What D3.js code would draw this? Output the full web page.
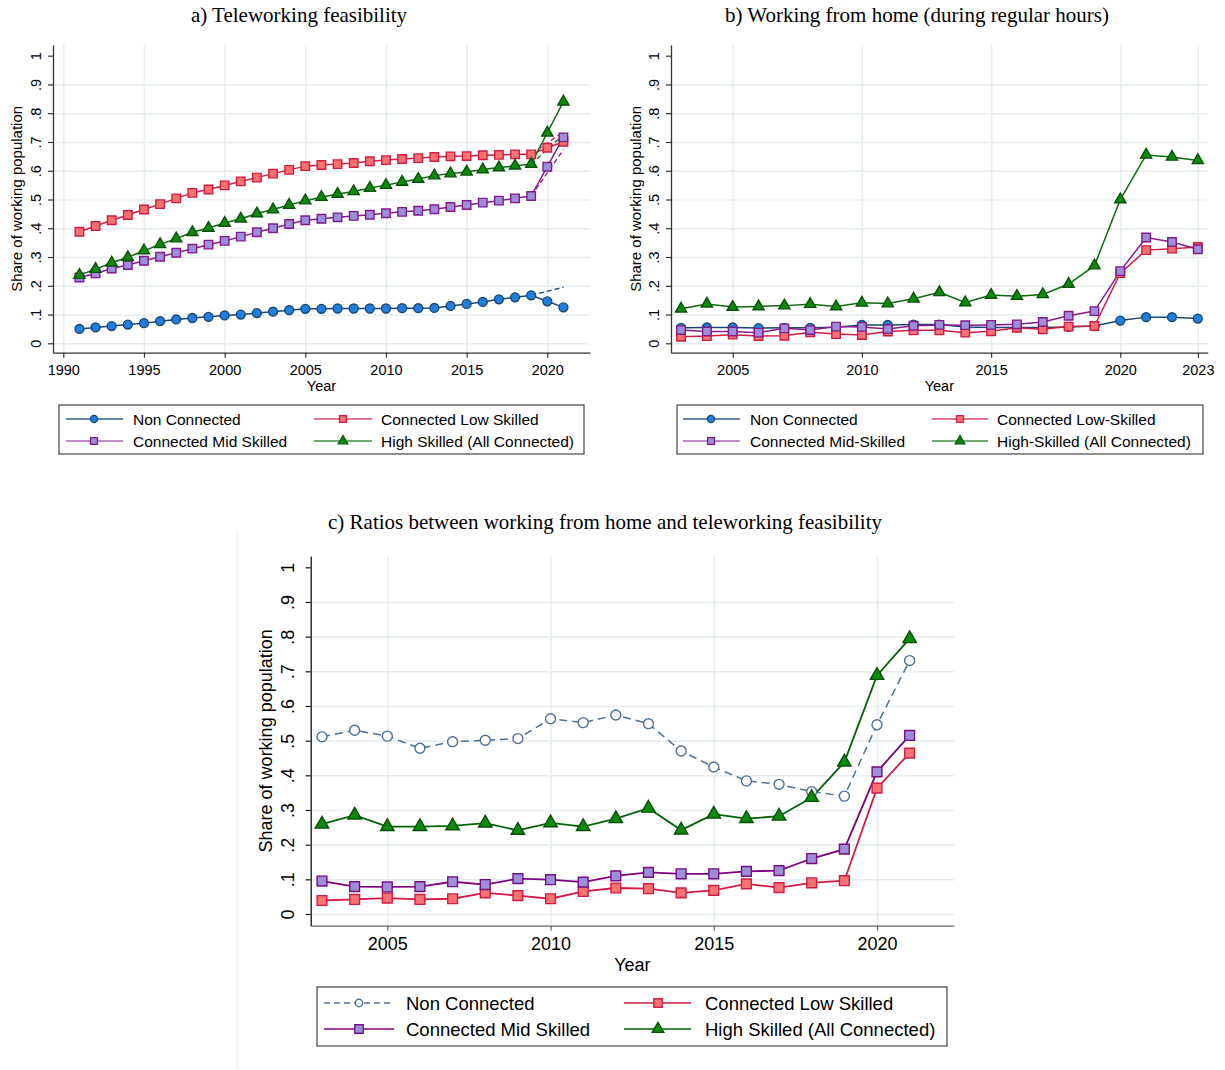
<!DOCTYPE html>
<html><head><meta charset="utf-8">
<script src="https://cdn.jsdelivr.net/npm/d3@7"></script>
<style>body{margin:0;background:#fff}svg{display:block}</style>
</head><body>
<svg id="chart" width="1225" height="1070"></svg>
<script>
// ---------- DATA ----------
const seriesNames = ["Non Connected","Connected Low Skilled","Connected Mid Skilled","High Skilled (All Connected)"];
const seriesNamesB = ["Non Connected","Connected Low-Skilled","Connected Mid-Skilled","High-Skilled (All Connected)"];
const yTickValues = [0,0.1,0.2,0.3,0.4,0.5,0.6,0.7,0.8,0.9,1];
const yTickLabels = ["0",".1",".2",".3",".4",".5",".6",".7",".8",".9","1"];
const yGridValues = [0,0.1,0.2,0.3,0.4,0.5,0.6,0.7,0.8,0.9];

// Panel a
const yearsA = [1991,1992,1993,1994,1995,1996,1997,1998,1999,2000,2001,2002,2003,2004,2005,2006,2007,2008,2009,2010,2011,2012,2013,2014,2015,2016,2017,2018,2019,2020,2021];
const aNon  = [0.050,0.055,0.060,0.065,0.070,0.077,0.083,0.088,0.092,0.097,0.100,0.105,0.110,0.115,0.120,0.120,0.121,0.121,0.121,0.121,0.122,0.122,0.123,0.130,0.137,0.144,0.153,0.160,0.167,0.146,0.125];
const aLow  = [0.388,0.408,0.428,0.446,0.465,0.484,0.504,0.523,0.535,0.549,0.563,0.576,0.590,0.603,0.616,0.620,0.623,0.627,0.633,0.637,0.641,0.644,0.648,0.650,0.651,0.654,0.655,0.657,0.657,0.680,0.701];
const aMid  = [0.229,0.243,0.260,0.272,0.287,0.301,0.315,0.329,0.343,0.356,0.371,0.386,0.400,0.415,0.428,0.433,0.438,0.443,0.447,0.452,0.457,0.461,0.466,0.474,0.481,0.489,0.496,0.504,0.512,0.614,0.716];
const aHigh = [0.237,0.258,0.280,0.299,0.322,0.344,0.364,0.386,0.401,0.418,0.433,0.451,0.465,0.481,0.496,0.508,0.519,0.528,0.540,0.550,0.561,0.571,0.583,0.590,0.596,0.604,0.611,0.617,0.623,0.732,0.840];
const trendYears = [2019,2021];
const aNonTrend  = [0.167,0.195];
const aLowTrend  = [0.657,0.735];
const aMidTrend  = [0.512,0.673];
const aHighTrend = [0.623,0.725];
const xTicksA = [1990,1995,2000,2005,2010,2015,2020];

// Panel b
const yearsB = [2003,2004,2005,2006,2007,2008,2009,2010,2011,2012,2013,2014,2015,2016,2017,2018,2019,2020,2021,2022,2023];
const bNon  = [0.054,0.055,0.055,0.053,0.054,0.054,0.056,0.064,0.064,0.065,0.065,0.057,0.055,0.055,0.055,0.057,0.060,0.079,0.091,0.091,0.086];
const bLow  = [0.023,0.025,0.030,0.025,0.026,0.038,0.032,0.029,0.041,0.045,0.045,0.037,0.042,0.054,0.049,0.058,0.060,0.244,0.324,0.329,0.335];
const bMid  = [0.046,0.041,0.041,0.037,0.052,0.046,0.058,0.057,0.050,0.061,0.064,0.063,0.064,0.066,0.074,0.096,0.112,0.251,0.368,0.352,0.327];
const bHigh = [0.120,0.137,0.126,0.128,0.131,0.136,0.128,0.141,0.138,0.155,0.177,0.142,0.168,0.164,0.170,0.206,0.270,0.500,0.655,0.648,0.636];
const xTicksB = [2005,2010,2015,2020,2023];

// Panel c
const yearsC = [2003,2004,2005,2006,2007,2008,2009,2010,2011,2012,2013,2014,2015,2016,2017,2018,2019,2020,2021];
const cNon  = [0.511,0.530,0.513,0.478,0.497,0.501,0.506,0.563,0.552,0.574,0.549,0.470,0.424,0.384,0.374,0.353,0.340,0.546,0.731];
const cLow  = [0.039,0.042,0.046,0.042,0.044,0.061,0.053,0.044,0.065,0.075,0.073,0.061,0.068,0.087,0.076,0.090,0.096,0.363,0.464];
const cMid  = [0.095,0.079,0.078,0.079,0.093,0.085,0.102,0.099,0.092,0.110,0.120,0.116,0.116,0.123,0.125,0.160,0.187,0.410,0.515];
const cHigh = [0.259,0.285,0.252,0.252,0.254,0.262,0.241,0.263,0.252,0.275,0.305,0.242,0.288,0.275,0.282,0.336,0.438,0.688,0.794];
const xTicksC = [2005,2010,2015,2020];

// ---------- STYLE ----------
const SANS = "'Liberation Sans', Arial, Helvetica, sans-serif";
const SERIF = "'Liberation Serif', 'Times New Roman', serif";
const GRID = "#e7eef1";
const st = {
  non:  {line:"#1a476f", fill:"#1f7fe0", stroke:"#1a476f", sym:d3.symbolCircle, leg:"#2f5f8f"},
  low:  {line:"#d51a44", fill:"#f87272", stroke:"#d51a44", sym:d3.symbolSquare, leg:"#d84a6c"},
  mid:  {line:"#8a1a92", fill:"#9b8fd8", stroke:"#84188f", sym:d3.symbolSquare, leg:"#b060bc"},
  high: {line:"#0b6b0b", fill:"#0b8a0b", stroke:"#075207", sym:d3.symbolTriangle, leg:"#3f913f"}
};

const svg = d3.select("#chart");

function makePanel(cfg){
  const g = svg.append("g");
  const x = d3.scaleLinear().domain(cfg.xRef).range(cfg.xRefPx);
  x.domain([x.invert(cfg.left), x.invert(cfg.right)]).range([cfg.left, cfg.right]);
  const y = d3.scaleLinear().domain([0,1]).range(cfg.yRefPx);
  y.domain([y.invert(cfg.bottom), y.invert(cfg.top)]).range([cfg.bottom, cfg.top]);

  g.append("g").attr("transform",`translate(${cfg.left},0)`)
    .call(d3.axisLeft(y).tickValues(yGridValues).tickSize(-(cfg.right-cfg.left)).tickFormat(""))
    .call(s=>{s.select(".domain").remove(); s.selectAll("line").attr("stroke",GRID).attr("stroke-width",1.6);});
  g.append("g").attr("transform",`translate(0,${cfg.bottom})`)
    .call(d3.axisBottom(x).tickValues(cfg.xTicks).tickSize(-(cfg.bottom-cfg.top)).tickFormat(""))
    .call(s=>{s.select(".domain").remove(); s.selectAll("line").attr("stroke",GRID).attr("stroke-width",1.6);});

  const ya = g.append("g").attr("transform",`translate(${cfg.left},0)`)
    .call(d3.axisLeft(y).tickValues(yTickValues).tickSize(5).tickSizeOuter(0).tickFormat((d,i)=>yTickLabels[i]));
  ya.select(".domain").attr("stroke",cfg.yAxisColor).attr("stroke-width",1.3);
  ya.selectAll(".tick line").attr("stroke",cfg.yAxisColor).attr("stroke-width",1.2);
  ya.selectAll(".tick text").attr("x",null).attr("dy",null)
    .attr("transform",`translate(${-cfg.yLabOff},0) rotate(-90)`)
    .attr("text-anchor","middle").attr("fill","#000")
    .style("font-family",SANS).style("font-size",cfg.tickFont+"px");

  const xa = g.append("g").attr("transform",`translate(0,${cfg.bottom})`)
    .call(d3.axisBottom(x).tickValues(cfg.xTicks).tickSize(5).tickSizeOuter(0).tickFormat(d3.format("d")));
  xa.select(".domain").attr("stroke",cfg.xAxisColor).attr("stroke-width",1.3);
  xa.selectAll(".tick line").attr("stroke",cfg.xAxisColor).attr("stroke-width",1.2);
  xa.selectAll(".tick text").attr("y",null).attr("dy",null)
    .attr("transform",`translate(0,${cfg.xLabOff})`)
    .attr("fill","#000").style("font-family",SANS).style("font-size",cfg.tickFont+"px");

  g.append("text").attr("x",(cfg.left+cfg.right)/2).attr("y",cfg.yearY).attr("text-anchor","middle")
    .style("font-family",SANS).style("font-size",cfg.titleFont+"px").text("Year");
  g.append("text").attr("transform",`translate(${cfg.yTitleX},${(cfg.top+cfg.bottom)/2}) rotate(-90)`)
    .attr("text-anchor","middle").style("font-family",SANS).style("font-size",cfg.yTitleFont+"px")
    .text("Share of working population");

  g.append("text").attr("x",cfg.titleX).attr("y",cfg.titleY).attr("text-anchor","middle")
    .style("font-family",SERIF).style("font-size",cfg.headFont+"px").text(cfg.title);

  const line = d3.line().x(d=>x(d[0])).y(d=>y(d[1]));
  const plot = g.append("g");
  (cfg.trends||[]).forEach(t=>{
    plot.append("path").datum(t.years.map((yr,i)=>[yr,t.vals[i]])).attr("d",line)
      .attr("fill","none").attr("stroke",t.color).attr("stroke-width",1.3).attr("stroke-dasharray","5,3");
  });
  cfg.series.forEach(s=>{
    const pts = s.years.map((yr,i)=>[yr,s.vals[i]]);
    plot.append("path").datum(pts).attr("d",line).attr("fill","none")
      .attr("stroke",s.line).attr("stroke-width",s.lw||1.5).attr("stroke-dasharray",s.dash||null);
  });
  cfg.series.forEach(s=>{
    const pts = s.years.map((yr,i)=>[yr,s.vals[i]]);
    const sym = d3.symbol().type(s.sym).size(s.size);
    plot.selectAll(null).data(pts).enter().append("path")
      .attr("d",sym).attr("transform",d=>`translate(${x(d[0])},${y(d[1])})`)
      .attr("fill",s.fill).attr("stroke",s.stroke).attr("stroke-width",s.sw||1.4);
  });

  const L = cfg.legend;
  const lg = g.append("g");
  lg.append("rect").attr("x",L.x).attr("y",L.y).attr("width",L.w).attr("height",L.h)
    .attr("fill","#fff").attr("stroke","#333").attr("stroke-width",1.1);
  L.items.forEach((it,i)=>{
    const c = L.cols[i%2], ry = L.rows[Math.floor(i/2)];
    lg.append("line").attr("x1",c.x1).attr("x2",c.x2).attr("y1",ry).attr("y2",ry)
      .attr("stroke",it.color).attr("stroke-width",1.5).attr("stroke-dasharray",it.dash||null);
    lg.append("path").attr("d",d3.symbol().type(it.sym).size(it.size)())
      .attr("transform",`translate(${c.m},${ry})`)
      .attr("fill",it.fill).attr("stroke",it.stroke).attr("stroke-width",1.3);
    lg.append("text").attr("x",c.t).attr("y",ry).attr("dy","0.36em")
      .style("font-family",SANS).style("font-size",L.font+"px").text(it.label);
  });
}

function abSeries(years, non, low, mid, high){
  return [
    {years, vals:non,  line:st.non.line,  fill:st.non.fill,  stroke:st.non.stroke,  sym:st.non.sym,  size:62},
    {years, vals:low,  line:st.low.line,  fill:st.low.fill,  stroke:st.low.stroke,  sym:st.low.sym,  size:72},
    {years, vals:mid,  line:st.mid.line,  fill:st.mid.fill,  stroke:st.mid.stroke,  sym:st.mid.sym,  size:72},
    {years, vals:high, line:st.high.line, fill:st.high.fill, stroke:st.high.stroke, sym:st.high.sym, size:54}
  ];
}
function abLegend(names){
  return [
    {label:names[0], color:st.non.leg,  fill:st.non.fill,  stroke:st.non.stroke,  sym:st.non.sym,  size:40},
    {label:names[1], color:st.low.leg,  fill:st.low.fill,  stroke:st.low.stroke,  sym:st.low.sym,  size:48},
    {label:names[2], color:st.mid.leg,  fill:st.mid.fill,  stroke:st.mid.stroke,  sym:st.mid.sym,  size:48},
    {label:names[3], color:st.high.leg, fill:st.high.fill, stroke:st.high.stroke, sym:st.high.sym, size:40}
  ];
}

makePanel({
  left:53, right:590, top:45, bottom:352.7,
  xRef:[1990,2020], xRefPx:[63.3,547.3], yRefPx:[343.3,55.7],
  xTicks:xTicksA, tickFont:14.5, titleFont:14.5, yTitleFont:15, headFont:21,
  yLabOff:12.5, xLabOff:22.5, yearY:391, yTitleX:22,
  yAxisColor:"#333", xAxisColor:"#333",
  title:"a) Teleworking feasibility", titleX:299, titleY:22,
  series:abSeries(yearsA,aNon,aLow,aMid,aHigh),
  trends:[
    {years:trendYears, vals:aNonTrend,  color:st.non.line},
    {years:trendYears, vals:aLowTrend,  color:st.low.line},
    {years:trendYears, vals:aMidTrend,  color:st.mid.line},
    {years:trendYears, vals:aHighTrend, color:st.high.line}
  ],
  legend:{x:59,y:405,w:525,h:49,font:15.5,rows:[419,441],
    cols:[{x1:66,x2:123,m:94,t:133},{x1:314,x2:372,m:343,t:381}],
    items:abLegend(seriesNames)}
});

makePanel({
  left:671, right:1207.7, top:45, bottom:352.7,
  xRef:[2005,2020], xRefPx:[732.7,1120.3], yRefPx:[343.3,55.7],
  xTicks:xTicksB, tickFont:14.5, titleFont:14.5, yTitleFont:15, headFont:21,
  yLabOff:12.5, xLabOff:22.5, yearY:391, yTitleX:641,
  yAxisColor:"#333", xAxisColor:"#333",
  title:"b) Working from home (during regular hours)", titleX:917, titleY:22,
  series:abSeries(yearsB,bNon,bLow,bMid,bHigh),
  legend:{x:677,y:405,w:526,h:49,font:15.5,rows:[419,441],
    cols:[{x1:683,x2:740,m:711,t:750},{x1:932,x2:988,m:960,t:997}],
    items:abLegend(seriesNamesB)}
});

svg.append("line").attr("x1",237).attr("x2",237).attr("y1",530).attr("y2",1070)
  .attr("stroke","#ebebeb").attr("stroke-width",1);

const cNonColor = "#4d7096";
makePanel({
  left:310.7, right:954, top:556, bottom:925.7,
  xRef:[2005,2020], xRefPx:[387.3,877], yRefPx:[914,567.3],
  xTicks:xTicksC, tickFont:18, titleFont:18, yTitleFont:18, headFont:21,
  yLabOff:16.5, xLabOff:24.5, yearY:971, yTitleX:271.5,
  yAxisColor:"#111", xAxisColor:"#666",
  title:"c) Ratios between working from home and teleworking feasibility", titleX:605, titleY:529,
  series:[
    {years:yearsC, vals:cNon,  line:cNonColor, dash:"8,5", fill:"#fff", stroke:cNonColor, sym:d3.symbolCircle, size:78, sw:1.4},
    {years:yearsC, vals:cLow,  line:"#d51a44", fill:st.low.fill,  stroke:"#d51a44", sym:d3.symbolSquare, size:96, lw:1.8},
    {years:yearsC, vals:cMid,  line:"#800080", fill:st.mid.fill,  stroke:"#7a0a85", sym:d3.symbolSquare, size:96, lw:1.8},
    {years:yearsC, vals:cHigh, line:"#006400", fill:"#0b8a0b",    stroke:"#064f06", sym:d3.symbolTriangle, size:78, lw:1.8}
  ],
  legend:{x:317,y:987,w:630,h:59,font:18.5,rows:[1003,1029],
    cols:[{x1:324,x2:394,m:359,t:406},{x1:624,x2:691,m:658,t:705}],
    items:[
      {label:seriesNames[0], color:cNonColor, dash:"6,4", fill:"#fff", stroke:cNonColor, sym:d3.symbolCircle, size:44},
      {label:seriesNames[1], color:"#d51a44", fill:st.low.fill, stroke:"#d51a44", sym:d3.symbolSquare, size:72},
      {label:seriesNames[2], color:"#800080", fill:st.mid.fill, stroke:"#7a0a85", sym:d3.symbolSquare, size:72},
      {label:seriesNames[3], color:"#006400", fill:"#0b8a0b", stroke:"#064f06", sym:d3.symbolTriangle, size:60}
    ]}
});
</script>
</body></html>
